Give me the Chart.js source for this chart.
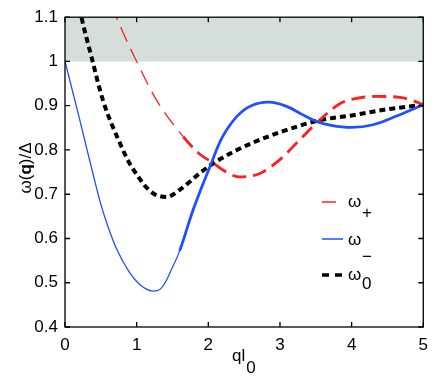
<!DOCTYPE html>
<html>
<head>
<meta charset="utf-8">
<script src="https://cdn.jsdelivr.net/npm/chart.js@4.4.1/dist/chart.umd.min.js"></script>
<style>
  html, body { margin: 0; padding: 0; background: #fff; }
  #wrap { width: 436px; height: 382px; }
</style>
</head>
<body>
<div id="wrap"><canvas id="chart" width="436" height="382"></canvas></div>
<script>
// tick values
const xTicks = [0, 1, 2, 3, 4, 5];
const yTicks = [0.4, 0.5, 0.6, 0.7, 0.8, 0.9, 1.0, 1.1];

// omega_+ (red, dashed)
const xPlus = [0.55, 0.72, 1.0, 1.28, 1.65, 1.85, 2.07, 2.25, 2.44, 2.72, 2.99, 3.27, 3.55, 3.83, 4.05, 4.34, 4.67, 4.85, 5.0];
const yPlus = [1.18, 1.1, 1.0, 0.912, 0.83, 0.795, 0.77, 0.75, 0.739, 0.747, 0.777, 0.822, 0.867, 0.904, 0.916, 0.921, 0.919, 0.912, 0.902];

// omega_- (blue, solid)
const xMinus = [0, 0.2, 0.4, 0.51, 0.61, 0.71, 0.81, 0.91, 1.01, 1.11, 1.23, 1.35, 1.5, 1.6, 1.8, 2.04, 2.2, 2.4, 2.6, 2.85, 3.1, 3.3, 3.5, 3.7, 4.0, 4.3, 4.6, 5.0];
const yMinus = [1.0, 0.872, 0.74, 0.672, 0.622, 0.58, 0.548, 0.521, 0.501, 0.488, 0.481, 0.489, 0.535, 0.572, 0.67, 0.769, 0.83, 0.876, 0.9, 0.908, 0.898, 0.881, 0.865, 0.856, 0.851, 0.857, 0.875, 0.902];

// omega_0 (black, dotted)
const xZero = [0.1, 0.23, 0.37, 0.53, 0.77, 0.9, 1.02, 1.11, 1.25, 1.42, 1.6, 1.9, 2.07, 2.34, 2.6, 3.0, 3.55, 4.0, 4.5, 5.0];
const yZero = [1.21, 1.1, 1.01, 0.912, 0.814, 0.77, 0.74, 0.72, 0.70, 0.694, 0.71, 0.75, 0.77, 0.795, 0.815, 0.84, 0.867, 0.878, 0.892, 0.902];

// shaded band above the gap
const bandX = [0, 5];
const bandTop = 1.1;
const bandBottom = 1.0;

const legendSubs = ['+', '\u2212', '0'];

const RED = '#ff1f1f';
const BLUE = '#1f4fff';
const FONT = '"Liberation Sans", Arial, Helvetica, sans-serif';

const pts = (xs, ys) => xs.map((x, i) => ({ x, y: ys[i] }));

const frame = {
  id: 'frame',
  afterDraw(chart) {
    const { ctx, chartArea: a, scales: { x, y } } = chart;
    ctx.save();
    ctx.strokeStyle = '#000';
    ctx.lineWidth = 1.3;
    ctx.strokeRect(a.left, a.top, a.right - a.left, a.bottom - a.top);
    ctx.beginPath();
    xTicks.forEach(v => {
      const px = x.getPixelForValue(v);
      ctx.moveTo(px, a.bottom); ctx.lineTo(px, a.bottom - 5);
      ctx.moveTo(px, a.top); ctx.lineTo(px, a.top + 5);
    });
    yTicks.forEach(v => {
      const py = y.getPixelForValue(v);
      ctx.moveTo(a.left, py); ctx.lineTo(a.left + 5, py);
      ctx.moveTo(a.right, py); ctx.lineTo(a.right - 5, py);
    });
    ctx.stroke();

    ctx.fillStyle = '#000';
    ctx.textBaseline = 'alphabetic';
    ctx.textAlign = 'left';

    // y title: ω(q)/Δ with bold q
    ctx.save();
    ctx.translate(31, 168);
    ctx.rotate(-Math.PI / 2);
    const parts = [['\u03c9(', '17px ' + FONT], ['q', 'bold 17px ' + FONT], [')/\u0394', '17px ' + FONT]];
    let total = 0;
    parts.forEach(p => { ctx.font = p[1]; total += ctx.measureText(p[0]).width; });
    let cx = -total / 2;
    parts.forEach(p => { ctx.font = p[1]; ctx.fillText(p[0], cx, 0); cx += ctx.measureText(p[0]).width; });
    ctx.restore();

    // x title: ql0
    ctx.font = '17px ' + FONT;
    ctx.fillText('ql', 232, 361);
    ctx.fillText('0', 232 + ctx.measureText('ql').width + 1, 373);

    // legend
    const rows = [
      { y: 202, base: 207, subBase: 217.5 },
      { y: 239, base: 245, subBase: 262 },
      { y: 275, base: 279.5, subBase: 288.5 }
    ];
    ctx.lineCap = 'butt';
    ctx.beginPath();
    ctx.strokeStyle = RED; ctx.lineWidth = 1.5;
    ctx.moveTo(322, rows[0].y); ctx.lineTo(336, rows[0].y);
    ctx.stroke();
    ctx.beginPath();
    ctx.strokeStyle = BLUE; ctx.lineWidth = 1.5;
    ctx.moveTo(322, rows[1].y); ctx.lineTo(343, rows[1].y);
    ctx.stroke();
    ctx.beginPath();
    ctx.strokeStyle = '#000'; ctx.lineWidth = 3.5;
    ctx.moveTo(322, rows[2].y); ctx.lineTo(329, rows[2].y);
    ctx.moveTo(335, rows[2].y); ctx.lineTo(342, rows[2].y);
    ctx.stroke();
    rows.forEach((r, i) => {
      ctx.font = '17px ' + FONT;
      ctx.fillText('\u03c9', 348, r.base);
      ctx.fillText(legendSubs[i], 362, r.subBase);
    });
    ctx.restore();
  }
};

new Chart(document.getElementById('chart'), {
  type: 'line',
  data: {
    datasets: [
      {
        label: 'band',
        data: pts(bandX, bandX.map(() => bandTop)),
        fill: { value: bandBottom },
        backgroundColor: '#d4dfdc',
        borderWidth: 0,
        pointRadius: 0,
        order: 10
      },
      {
        label: '\u03c9+',
        data: pts(xPlus, yPlus),
        borderColor: RED,
        borderWidth: 2.8,
        borderDash: [14, 7],
        cubicInterpolationMode: 'monotone',
        pointRadius: 0,
        fill: false,
        clip: 0,
        order: 2,
        segment: {
          borderWidth: c => c.p0.parsed.x < 1.65 ? 1.3 : 2.8,
          borderDash: c => c.p0.parsed.x < 1.65 ? [16, 8] : [14, 7]
        }
      },
      {
        label: '\u03c9\u2212',
        data: pts(xMinus, yMinus),
        borderColor: BLUE,
        borderWidth: 2.8,
        tension: 0.4,
        pointRadius: 0,
        fill: false,
        clip: 0,
        order: 1,
        segment: {
          borderWidth: c => c.p0.parsed.x < 1.6 ? 1.3 : 2.8
        }
      },
      {
        label: '\u03c90',
        data: pts(xZero, yZero),
        borderColor: '#000',
        borderWidth: 4,
        borderDash: [6, 4],
        cubicInterpolationMode: 'monotone',
        pointRadius: 0,
        fill: false,
        clip: 0,
        order: 3
      }
    ]
  },
  options: {
    responsive: false,
    animation: false,
    layout: { padding: { top: 15, right: 12, left: 0, bottom: 0 } },
    plugins: { legend: { display: false }, tooltip: { enabled: false } },
    scales: {
      x: {
        type: 'linear',
        min: 0, max: 5,
        grid: { display: false, drawTicks: false },
        border: { display: false },
        afterBuildTicks: s => { s.ticks = xTicks.map(v => ({ value: v })); },
        afterFit: s => { s.height = 55; },
        ticks: { color: '#000', padding: 8, font: { size: 17, family: FONT }, maxRotation: 0 }
      },
      y: {
        type: 'linear',
        min: 0.4, max: 1.1,
        grid: { display: false, drawTicks: false },
        border: { display: false },
        afterBuildTicks: s => { s.ticks = yTicks.map(v => ({ value: v })); },
        afterFit: s => { s.width = 65; },
        ticks: {
          color: '#000', padding: 7, font: { size: 17, family: FONT },
          callback: v => String(Number(v.toFixed(1)))
        }
      }
    }
  },
  plugins: [frame]
});
</script>
</body>
</html>
